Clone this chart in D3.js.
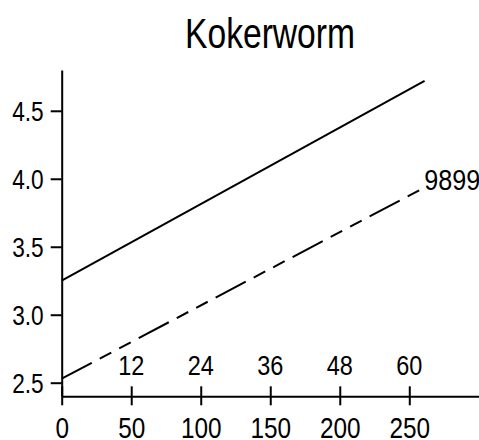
<!DOCTYPE html>
<html>
<head>
<meta charset="utf-8">
<script src="https://cdn.jsdelivr.net/npm/d3@7"></script>
<style>
  html, body { margin: 0; padding: 0; background: #fff; }
  svg { display: block; }
  text { font-family: "Liberation Sans", Arial, sans-serif; fill: #000; }
</style>
</head>
<body>
<svg id="chart" width="479" height="440"></svg>
<script>
// ---- data ----
const title = "Kokerworm";
const xTicks = [0, 50, 100, 150, 200, 250];
const yTicks = [2.5, 3.0, 3.5, 4.0, 4.5];
const secondaryTickPos = [50, 100, 150, 200, 250];
const secondaryTickLabels = ["12", "24", "36", "48", "60"];
const solidX = [0, 261];
const solidY = [3.25, 4.72];
const dashedX = [0, 260];
const dashedY = [2.53, 3.93];
const dashedLabel = "9899";

// ---- layout ----
const SX = 0.84; // horizontal condensing of glyphs
const svg = d3.select("#chart");
const x = d3.scaleLinear().domain([0, 300]).range([61.7, 478.8]);
const y = d3.scaleLinear().domain([2.4, 4.8]).range([396.3, 70]);

// title
svg.append("text")
  .attr("transform", `translate(270,48) scale(0.80,1)`)
  .attr("text-anchor", "middle")
  .style("font-size", "42px")
  .text(title);

// y axis
const yAxis = svg.append("g")
  .attr("transform", `translate(${x(0)},0)`)
  .call(d3.axisLeft(y).tickValues(yTicks).tickFormat(d3.format(".1f")).tickSize(11).tickPadding(7).tickSizeOuter(0));
yAxis.select(".domain").attr("stroke", "#000").attr("stroke-width", 2);
yAxis.selectAll(".tick line").attr("stroke", "#000").attr("stroke-width", 2);
yAxis.selectAll(".tick text")
  .style("font-size", "27px")
  .attr("x", 0).attr("dy", "0.36em")
  .attr("transform", `translate(-18,0) scale(${SX},1)`);

// x axis
const xAxis = svg.append("g")
  .attr("transform", `translate(0,${y(2.4)})`)
  .call(d3.axisBottom(x).tickValues(xTicks).tickFormat(d3.format("d")).tickSize(9).tickPadding(13).tickSizeOuter(0));
xAxis.select(".domain").attr("stroke", "#000").attr("stroke-width", 2);
xAxis.selectAll(".tick line").attr("y1", -10).attr("stroke", "#000").attr("stroke-width", 2);
xAxis.selectAll(".tick text")
  .style("font-size", "29px")
  .attr("y", 0).attr("dy", 0)
  .attr("transform", `translate(0,41.5) scale(${SX},1)`);

// secondary tick labels above axis
svg.append("g").selectAll("text")
  .data(secondaryTickPos)
  .join("text")
  .attr("transform", d => `translate(${x(d)},${y(2.4) - 21.5}) scale(${SX},1)`)
  .attr("text-anchor", "middle")
  .style("font-size", "28px")
  .text((d, i) => secondaryTickLabels[i]);

// lines
const line = d3.line().x(d => x(d[0])).y(d => y(d[1]));
svg.append("path")
  .datum(solidX.map((v, i) => [v, solidY[i]]))
  .attr("d", line)
  .attr("fill", "none").attr("stroke", "#000").attr("stroke-width", 2);

svg.append("path")
  .datum(dashedX.map((v, i) => [v, dashedY[i]]))
  .attr("d", line)
  .attr("fill", "none").attr("stroke", "#000").attr("stroke-width", 2)
  .attr("stroke-dasharray", "34,9,13,9,13,9");

svg.append("text")
  .attr("transform", `translate(${x(dashedX[1]) + 1},${y(dashedY[1]) + 2}) scale(${SX},1)`)
  .style("font-size", "30px")
  .text(dashedLabel);
</script>
</body>
</html>
